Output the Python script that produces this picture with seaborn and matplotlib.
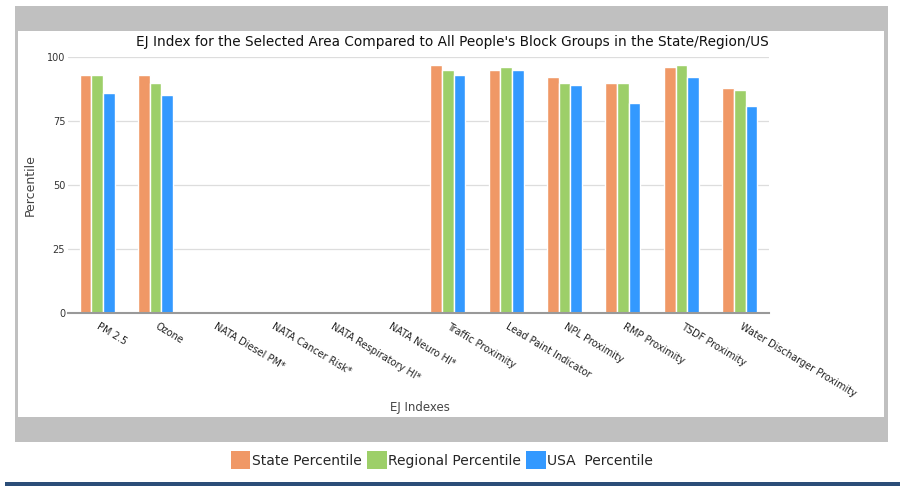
import numpy as np
import pandas as pd
import matplotlib
matplotlib.use("Agg")
import matplotlib.pyplot as plt
from matplotlib.patches import Rectangle, Patch
import seaborn as sns

# EJ index categories and the three percentile series (NATA ones have no data)
categories = ["PM 2.5", "Ozone", "NATA Diesel PM*", "NATA Cancer Risk*",
              "NATA Respiratory HI*", "NATA Neuro HI*", "Traffic Proximity",
              "Lead Paint Indicator", "NPL Proximity", "RMP Proximity",
              "TSDF Proximity", "Water Discharger Proximity"]
state_pct = [93, 93, np.nan, np.nan, np.nan, np.nan, 97, 95, 92, 90, 96, 88]
regional_pct = [93, 90, np.nan, np.nan, np.nan, np.nan, 95, 96, 90, 90, 97, 87]
usa_pct = [86, 85, np.nan, np.nan, np.nan, np.nan, 93, 95, 89, 82, 92, 81]
series_names = ["State Percentile", "Regional Percentile", "USA  Percentile"]
colors = ["#F09866", "#9DCF69", "#3399FF"]
yticks = [0, 25, 50, 75, 100]

# long table for seaborn
rows = []
for name, vals in zip(series_names, [state_pct, regional_pct, usa_pct]):
    for c, v in zip(categories, vals):
        rows.append({"EJ Indexes": c, "Series": name, "Percentile": v})
df = pd.DataFrame(rows)

sns.set_style("white")
plt.rcParams['font.family'] = ['DejaVu Sans']

W, H = 913, 488
fig = plt.figure(figsize=(W / 100, H / 100), dpi=100)

# gray frame + white panel (pixel coords -> figure fraction)
def px_rect(x0, y0, x1, y1, color, z):
    fig.patches.append(Rectangle((x0 / W, 1 - y1 / H), (x1 - x0) / W, (y1 - y0) / H,
                                 transform=fig.transFigure, facecolor=color,
                                 edgecolor="none", zorder=z))

px_rect(15, 6, 888, 442, "#C0C0C0", -3)
px_rect(18, 31, 884, 417, "white", -2)
px_rect(5, 482, 900, 486, "#2B4D78", -2)

ax = fig.add_axes([68 / W, 1 - 313 / H, (769 - 68) / W, (313 - 57) / H])
ax.set_facecolor("none")
ax.set_zorder(2)

sns.barplot(data=df, x="EJ Indexes", y="Percentile", hue="Series", order=categories,
            hue_order=series_names, palette=colors, width=0.6, errorbar=None,
            edgecolor="white", linewidth=1, saturation=1, ax=ax, zorder=3)

ax.set_ylim(0, 100)
ax.set_xlim(-0.5, len(categories) - 0.5)
ax.set_yticks(yticks)
ax.set_yticklabels([str(t) for t in yticks], fontsize=7, color="#333333")
ax.yaxis.grid(True, color="#DDDDDD", linewidth=0.9, zorder=0)
ax.set_axisbelow(True)
for s in ["left", "right", "top"]:
    ax.spines[s].set_visible(False)
ax.spines["bottom"].set_color("#999999")
ax.spines["bottom"].set_linewidth(1.5)
ax.spines["bottom"].set_zorder(4)
ax.tick_params(axis="y", length=0, pad=2)
ax.tick_params(axis="x", length=0, pad=6)
ax.set_xticks(np.arange(len(categories)) + 0.05)
ax.set_xticklabels(categories, rotation=-31, ha="left", va="top",
                   rotation_mode="anchor", fontsize=7, color="#222222")
ax.set_xlabel("")
ax.set_ylabel("Percentile", fontsize=9, color="#444444", labelpad=7)
ax.get_legend().remove()

fig.text(452 / W, 1 - 42 / H, "EJ Index for the Selected Area Compared to All People's Block Groups in the State/Region/US",
         ha="center", va="center", fontsize=9.8, color="#111111")
fig.text(420 / W, 1 - 408 / H, "EJ Indexes", ha="center", va="center",
         fontsize=8.5, color="#444444")

handles = [Patch(facecolor=c, edgecolor="none") for c in colors]
fig.legend(handles, series_names, loc="center", bbox_to_anchor=(442 / W, 1 - 460 / H),
           ncol=3, frameon=False, fontsize=10, handlelength=1.4, handleheight=1.6,
           handletextpad=0.1, columnspacing=0.4, borderaxespad=0)

fig.savefig("out.png", dpi=100)
